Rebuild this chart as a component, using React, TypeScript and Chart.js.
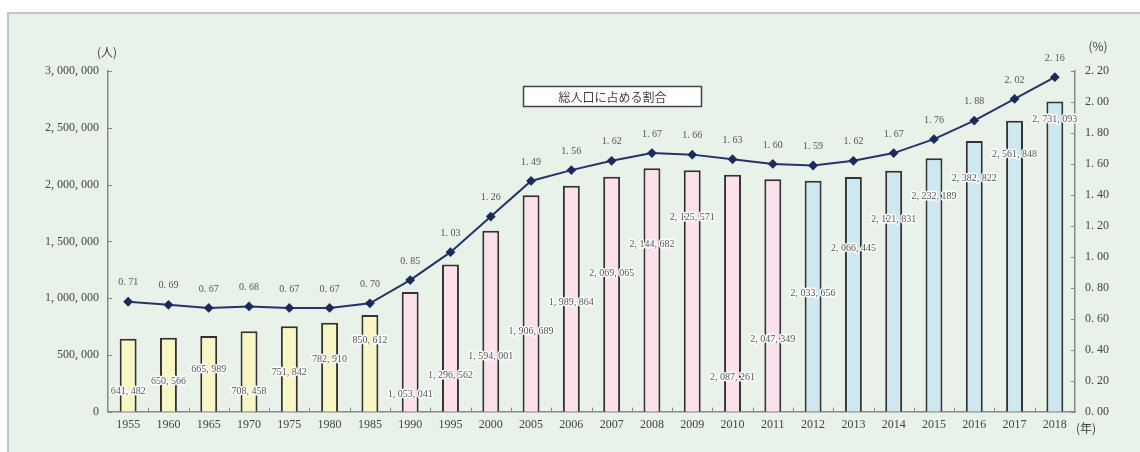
import React, { useEffect, useRef } from "react";
import { Chart, registerables } from "chart.js";

Chart.register(...registerables);

const years = [
  "1955", "1960", "1965", "1970", "1975", "1980", "1985", "1990", "1995", "2000",
  "2005", "2006", "2007", "2008", "2009", "2010", "2011", "2012", "2013", "2014",
  "2015", "2016", "2017", "2018",
];

const population = [
  641482, 650566, 665989, 708458, 751842, 782910, 850612, 1053041, 1296562, 1594001,
  1906689, 1989864, 2069065, 2144682, 2125571, 2087261, 2047349, 2033656, 2066445, 2121831,
  2232189, 2382822, 2561848, 2731093,
];

const sharePercent = [
  0.71, 0.69, 0.67, 0.68, 0.67, 0.67, 0.70, 0.85, 1.03, 1.26,
  1.49, 1.56, 1.62, 1.67, 1.66, 1.63, 1.60, 1.59, 1.62, 1.67,
  1.76, 1.88, 2.02, 2.16,
];

const leftTicks = [0, 500000, 1000000, 1500000, 2000000, 2500000, 3000000];
const rightTicks = [0, 0.2, 0.4, 0.6, 0.8, 1.0, 1.2, 1.4, 1.6, 1.8, 2.0, 2.2];

// label placement levels (axis units) used by the bar value labels
const barLabelLevels = [
  176000, 265000, 377000, 176000, 344000, 462000, 626000, 156000, 324000, 485000,
  706000, 965000, 1215000, 1471000, 1712000, 300000, 633000, 1045000, 1438000, 1694000,
  1897000, 2053000, 2265000, 2574000,
];

const legendText = "総人口に占める割合";

const SERIF = '"Liberation Serif", "DejaVu Serif", "Noto Sans CJK JP", serif';
const CJK = '"Noto Sans CJK JP", "Liberation Serif", serif';

const fmtPeople = (n: number) => Math.round(n).toLocaleString("en-US").replace(/,/g, ", ");
const fmtPct = (v: number) => Number(v).toFixed(2).replace(".", ". ");

const barColor = (y: string) => {
  const n = Number(y);
  if (n <= 1985) return "#F8F6C2";
  if (n <= 2011) return "#FCE1EC";
  return "#CDE8EE";
};

const decorPlugin = {
  id: "decor",
  afterDatasetsDraw(chart: any) {
    const { ctx, chartArea, scales } = chart;
    const x = scales.x;
    const y = scales.y;
    const y1 = scales.y1;
    ctx.save();

    // inward tick marks
    ctx.strokeStyle = "#888";
    ctx.lineWidth = 1;
    ctx.beginPath();
    leftTicks.forEach((v) => {
      const py = Math.round(y.getPixelForValue(v)) + 0.5;
      ctx.moveTo(chartArea.left, py);
      ctx.lineTo(chartArea.left + 4, py);
    });
    rightTicks.forEach((v) => {
      const py = Math.round(y1.getPixelForValue(v)) + 0.5;
      ctx.moveTo(chartArea.right, py);
      ctx.lineTo(chartArea.right - 4, py);
    });
    for (let i = 1; i < years.length; i++) {
      const px = Math.round((x.getPixelForValue(i - 1) + x.getPixelForValue(i)) / 2) + 0.5;
      ctx.moveTo(px, chartArea.bottom);
      ctx.lineTo(px, chartArea.bottom - 4);
    }
    ctx.stroke();

    // bar value labels
    ctx.font = `10px ${SERIF}`;
    ctx.textAlign = "center";
    ctx.textBaseline = "middle";
    ctx.lineJoin = "round";
    population.forEach((v, i) => {
      const px = x.getPixelForValue(i);
      const py = y.getPixelForValue(barLabelLevels[i]);
      const t = fmtPeople(v);
      ctx.lineWidth = 3;
      ctx.strokeStyle = "rgba(255,255,255,0.95)";
      ctx.strokeText(t, px, py);
      ctx.fillStyle = "#555";
      ctx.fillText(t, px, py);
    });

    // percentage labels
    ctx.font = `10px ${SERIF}`;
    ctx.fillStyle = "#555";
    sharePercent.forEach((v, i) => {
      const px = x.getPixelForValue(i);
      const py = y1.getPixelForValue(v) - 19;
      ctx.fillText(fmtPct(v), px, py);
    });

    // legend box
    const bx = 523.5, by = 86.5, bw = 178, bh = 20;
    ctx.fillStyle = "#ffffff";
    ctx.fillRect(bx, by, bw, bh);
    ctx.strokeStyle = "#444";
    ctx.lineWidth = 1.5;
    ctx.strokeRect(bx, by, bw, bh);
    ctx.fillStyle = "#444";
    ctx.font = `12px ${CJK}`;
    ctx.fillText(legendText, bx + bw / 2, by + bh / 2 + 1);

    // axis unit titles
    ctx.font = `12px ${CJK}`;
    ctx.fillStyle = "#444";
    ctx.fillText("(人)", chartArea.left - 1, 52);
    ctx.fillText("(%)", chartArea.right + 23, 46);
    ctx.fillText("(年)", chartArea.right + 11, 428);

    ctx.restore();
  },
};

export default function App() {
  const ref = useRef<HTMLCanvasElement | null>(null);

  useEffect(() => {
    if (!ref.current) return;
    const chart = new Chart(ref.current, {
      type: "bar",
      data: {
        labels: years,
        datasets: [
          {
            type: "line",
            label: legendText,
            data: sharePercent,
            yAxisID: "y1",
            borderColor: "#25336A",
            backgroundColor: "#1C2A5E",
            borderWidth: 2,
            pointStyle: "rectRot",
            pointRadius: 3.5,
            pointBackgroundColor: "#1C2A5E",
            pointBorderColor: "#1C2A5E",
            tension: 0,
            order: 0,
          } as any,
          {
            type: "bar",
            label: "人口",
            data: population,
            yAxisID: "y",
            backgroundColor: years.map(barColor),
            borderColor: "#333",
            borderWidth: 2,
            barPercentage: 0.42,
            categoryPercentage: 1,
            order: 1,
          } as any,
        ],
      },
      options: {
        animation: false,
        responsive: false,
        devicePixelRatio: 1,
        layout: { padding: { left: 8, right: 0, top: 71, bottom: 0 } },
        plugins: {
          legend: { display: false },
          tooltip: { enabled: false },
        },
        scales: {
          x: {
            offset: true,
            grid: { display: false, drawTicks: false },
            border: { display: true, color: "#888", width: 1.5 },
            ticks: {
              font: { family: SERIF, size: 12 },
              color: "#444",
              padding: 6,
              maxRotation: 0,
              autoSkip: false,
            },
            afterFit: (s: any) => {
              s.height = 40.3;
            },
          },
          y: {
            position: "left",
            min: 0,
            max: 3000000,
            grid: { display: false, drawTicks: false },
            border: { display: true, color: "#888", width: 1.5 },
            ticks: {
              stepSize: 500000,
              font: { family: SERIF, size: 12 },
              color: "#444",
              padding: 9,
              callback: (v: any) => fmtPeople(Number(v)),
            },
            afterFit: (s: any) => {
              s.width = 100;
            },
          },
          y1: {
            position: "right",
            min: 0,
            max: 2.2,
            grid: { display: false, drawTicks: false },
            border: { display: true, color: "#888", width: 1.5 },
            ticks: {
              stepSize: 0.2,
              font: { family: SERIF, size: 12 },
              color: "#444",
              padding: 10,
              callback: (v: any) => fmtPct(Number(v)),
            },
            afterFit: (s: any) => {
              s.width = 65;
            },
          },
        },
      },
      plugins: [decorPlugin],
    });
    return () => chart.destroy();
  }, []);

  return (
    <div
      style={{
        position: "fixed",
        left: 0,
        top: 0,
        width: 1140,
        height: 452,
        background: "#ffffff",
        overflow: "hidden",
      }}
    >
      <div
        style={{
          position: "absolute",
          left: 7,
          top: 12,
          width: 1200,
          height: 500,
          border: "2px solid #c4c4c4",
          background: "#E8F2E9",
        }}
      />
      <canvas
        ref={ref}
        width={1140}
        height={452}
        style={{ position: "absolute", left: 0, top: 0, width: 1140, height: 452 }}
      />
    </div>
  );
}
